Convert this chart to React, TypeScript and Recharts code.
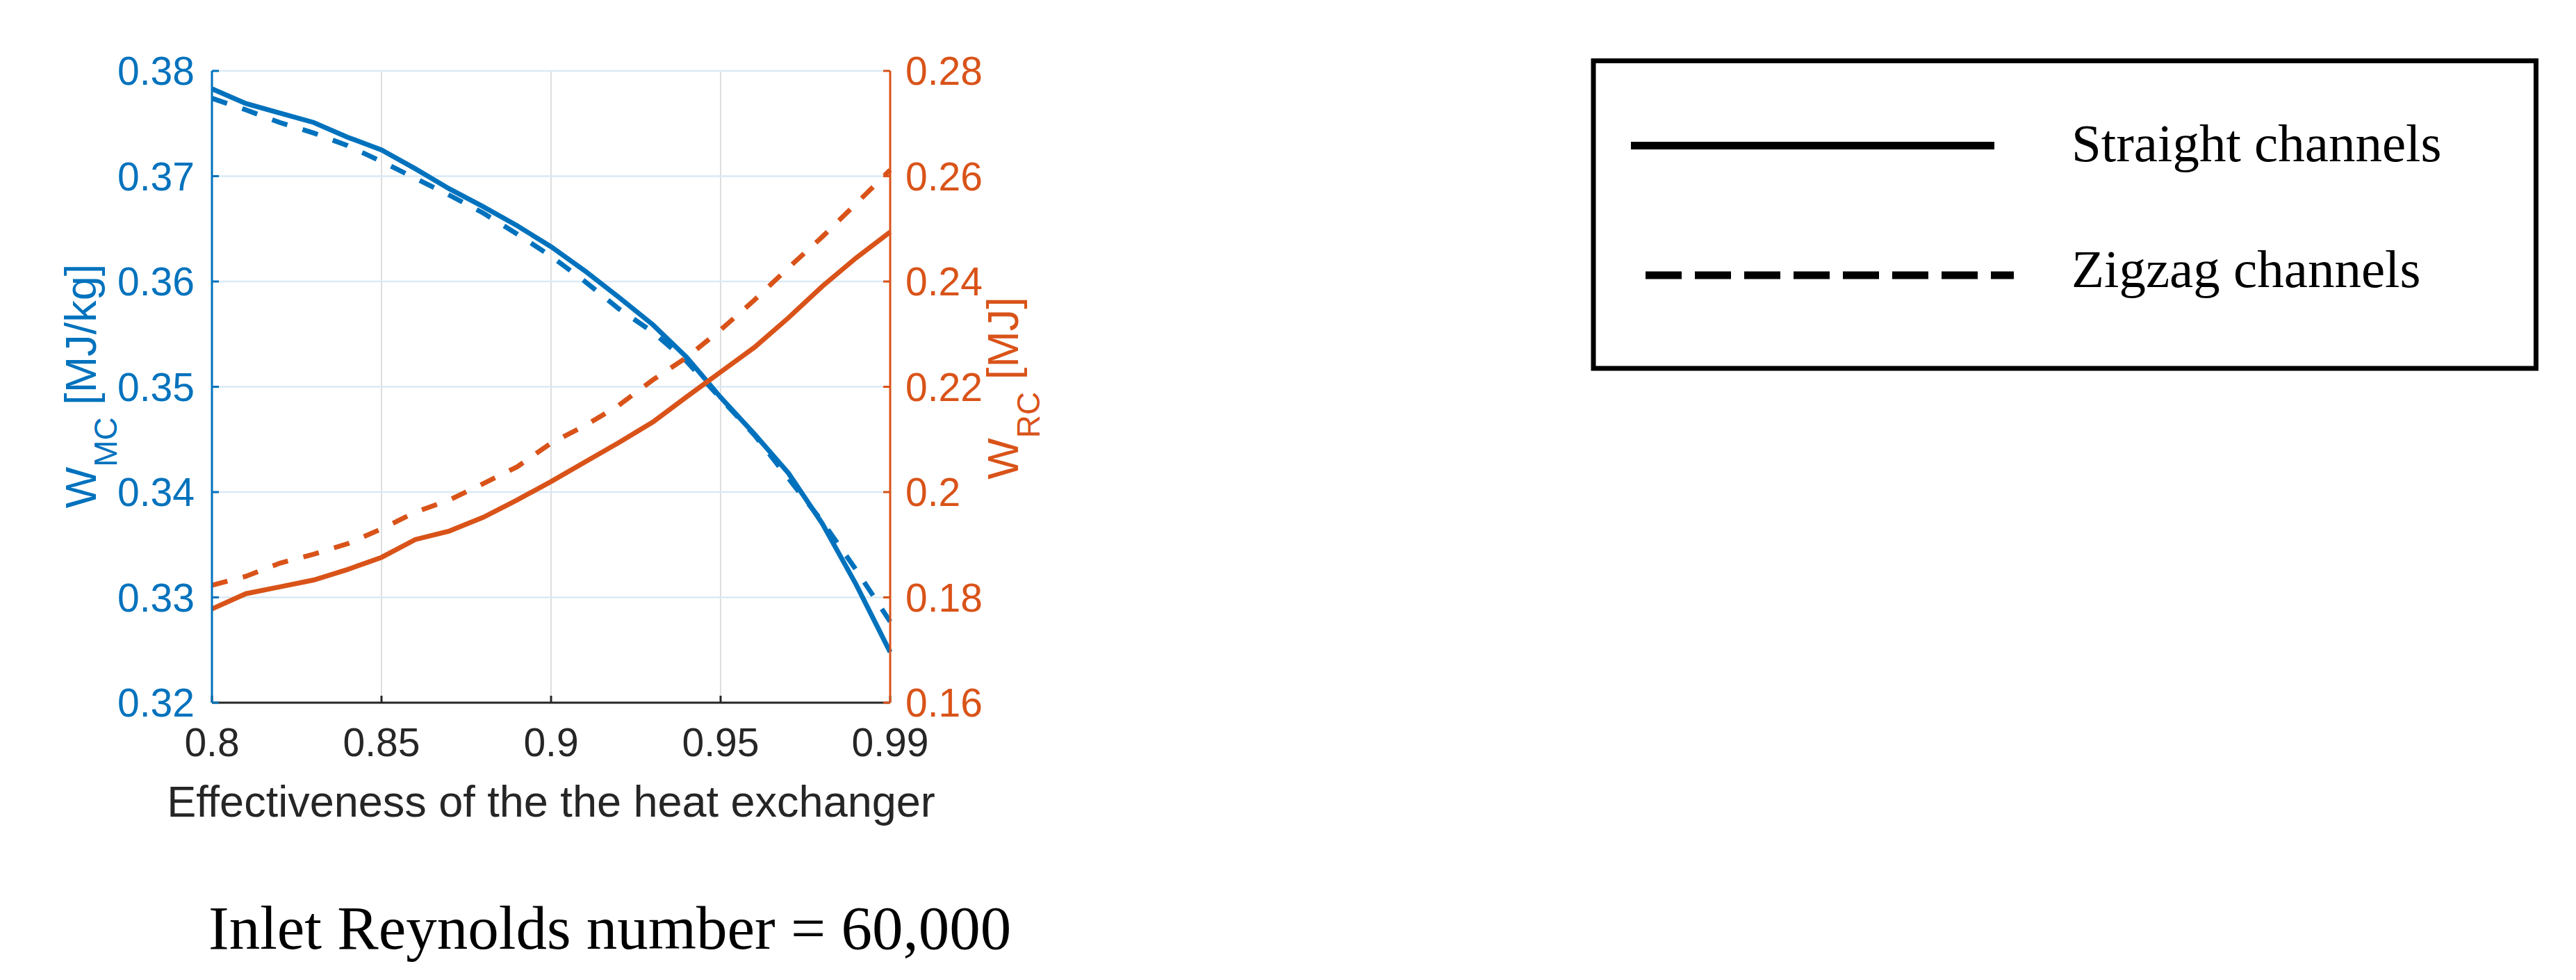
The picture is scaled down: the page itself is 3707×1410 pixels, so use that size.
import React from 'react';
import { LineChart, Line, XAxis, YAxis, CartesianGrid } from 'recharts';

// ---- data ----
const effectiveness = [0.8, 0.81, 0.82, 0.83, 0.84, 0.85, 0.86, 0.87, 0.88, 0.89, 0.9, 0.91, 0.92, 0.93, 0.94, 0.95, 0.96, 0.97, 0.98, 0.99, 1.0];
const wmcStraight = [0.3783, 0.3769, 0.376, 0.3751, 0.3737, 0.3725, 0.3707, 0.3688, 0.3671, 0.3653, 0.3633, 0.361, 0.3585, 0.3559, 0.3528, 0.349, 0.3455, 0.3418, 0.337, 0.3312, 0.3248];
const wmcZigzag = [0.3774, 0.3763, 0.3751, 0.3741, 0.3729, 0.3714, 0.3698, 0.3682, 0.3665, 0.3645, 0.3624, 0.36, 0.3574, 0.3552, 0.3524, 0.3489, 0.3454, 0.3413, 0.3372, 0.3326, 0.3277];
const wrcStraight = [0.1778, 0.1807, 0.182, 0.1833, 0.1853, 0.1876, 0.191, 0.1926, 0.1952, 0.1985, 0.202, 0.2057, 0.2094, 0.2133, 0.2181, 0.2228, 0.2275, 0.2331, 0.2391, 0.2445, 0.2494];
const wrcZigzag = [0.1823, 0.184, 0.1865, 0.1882, 0.1902, 0.193, 0.1962, 0.1985, 0.2016, 0.2048, 0.2093, 0.2126, 0.2165, 0.2213, 0.2256, 0.2308, 0.2365, 0.2426, 0.2485, 0.2548, 0.2612];

const xTicks = [0.8, 0.85, 0.9, 0.95, 1.0];
const xTickLabels = ['0.8', '0.85', '0.9', '0.95', '0.99'];
const leftTicks = [0.32, 0.33, 0.34, 0.35, 0.36, 0.37, 0.38];
const rightTicks = [0.16, 0.18, 0.2, 0.22, 0.24, 0.26, 0.28];
const legendNames = ['Straight channels', 'Zigzag channels'];
const xTitle = 'Effectiveness of the the heat exchanger';
const caption = 'Inlet Reynolds number = 60,000';

const data = effectiveness.map((x, i) => ({
  x,
  wmcStraight: wmcStraight[i],
  wmcZigzag: wmcZigzag[i],
  wrcStraight: wrcStraight[i],
  wrcZigzag: wrcZigzag[i],
}));

// ---- styles ----
const BLUE = '#0072BD';
const ORANGE = '#D95319';
const DARK = '#262626';
const SANS = '"Liberation Sans", Arial, Helvetica, sans-serif';
const SERIF = '"Liberation Serif", "Times New Roman", serif';
const TICK_FONT = 57;
const TITLE_FONT = 63;
const SUB_FONT = 46;
const LINE_W = 7;
const DASH = '23 23';

const CHART_W = 1600;
const CHART_H = 1260;

const LeftTitle = (props: any) => {
  const vb = props.viewBox || { x: 0, y: 0, width: 0, height: 0 };
  const bx = vb.x + 33;
  const cy = vb.y + vb.height / 2 - 1;
  return (
    <text
      transform={`translate(${bx},${cy}) rotate(-90)`}
      textAnchor="middle"
      fill={BLUE}
      fontSize={TITLE_FONT}
      fontFamily={SANS}
      style={{ whiteSpace: 'pre' }}
    >
      <tspan>W</tspan>
      <tspan fontSize={SUB_FONT} dy={30}>MC</tspan>
      <tspan dy={-30}>{' [MJ/kg]'}</tspan>
    </text>
  );
};

const RightTitle = (props: any) => {
  const vb = props.viewBox || { x: 0, y: 0, width: 0, height: 0 };
  const bx = vb.x + 184;
  const cy = vb.y + vb.height / 2 + 2;
  return (
    <text
      transform={`translate(${bx},${cy}) rotate(-90)`}
      textAnchor="middle"
      fill={ORANGE}
      fontSize={TITLE_FONT}
      fontFamily={SANS}
      style={{ whiteSpace: 'pre' }}
    >
      <tspan>W</tspan>
      <tspan fontSize={SUB_FONT} dy={31}>RC</tspan>
      <tspan dy={-31}>{' [MJ]'}</tspan>
    </text>
  );
};

const BottomTitle = (props: any) => {
  const vb = props.viewBox || { x: 0, y: 0, width: 0, height: 0 };
  return (
    <text
      x={vb.x + vb.width / 2}
      y={vb.y + 164}
      textAnchor="middle"
      fill={DARK}
      fontSize={TITLE_FONT}
      fontFamily={SANS}
    >
      {xTitle}
    </text>
  );
};

export default function App() {
  return (
    <div style={{ position: 'absolute', left: 0, top: 0, width: 3707, height: 1410, background: '#ffffff', overflow: 'hidden' }}>
      <LineChart
        width={CHART_W}
        height={CHART_H}
        data={data}
        margin={{ top: 102, left: 105, right: 119, bottom: 99 }}
      >
        <CartesianGrid xAxisId="bottom" yAxisId="left" horizontal={false} vertical={true} stroke="#dedede" strokeWidth={2} />
        <CartesianGrid xAxisId="bottom" yAxisId="left" horizontal={true} vertical={false} stroke="#d9eaf5" strokeWidth={2.5} />
        <XAxis
          xAxisId="bottom"
          dataKey="x"
          type="number"
          domain={[0.8, 1.0]}
          ticks={xTicks}
          interval={0}
          tickFormatter={(v: any, i: number) => xTickLabels[i] ?? String(v)}
          height={150}
          tickSize={-10}
          tickMargin={47}
          axisLine={{ stroke: DARK, strokeWidth: 3 }}
          tickLine={{ stroke: DARK, strokeWidth: 3 }}
          tick={{ fill: DARK, fontSize: TICK_FONT, fontFamily: SANS }}
          label={{ content: BottomTitle }}
        />
        <XAxis
          xAxisId="top"
          orientation="top"
          dataKey="x"
          type="number"
          domain={[0.8, 1.0]}
          ticks={xTicks}
          interval={0}
          height={0}
          tickSize={-10}
          tickFormatter={() => ''}
          axisLine={{ stroke: DARK, strokeWidth: 3 }}
          tickLine={{ stroke: DARK, strokeWidth: 3 }}
        />
        <YAxis
          yAxisId="left"
          orientation="left"
          type="number"
          domain={[0.32, 0.38]}
          ticks={leftTicks}
          interval={0}
          width={200}
          tickSize={-10}
          tickMargin={35}
          axisLine={{ stroke: BLUE, strokeWidth: 3 }}
          tickLine={{ stroke: BLUE, strokeWidth: 3 }}
          tick={{ fill: BLUE, fontSize: TICK_FONT, fontFamily: SANS }}
          label={{ content: LeftTitle }}
        />
        <YAxis
          yAxisId="right"
          orientation="right"
          type="number"
          domain={[0.16, 0.28]}
          ticks={rightTicks}
          interval={0}
          width={200}
          tickSize={-10}
          tickMargin={32}
          axisLine={{ stroke: ORANGE, strokeWidth: 3 }}
          tickLine={{ stroke: ORANGE, strokeWidth: 3 }}
          tick={{ fill: ORANGE, fontSize: TICK_FONT, fontFamily: SANS }}
          label={{ content: RightTitle }}
        />
        <Line xAxisId="bottom" yAxisId="left" type="linear" dataKey="wmcStraight" name="WMC straight" stroke={BLUE} strokeWidth={LINE_W} dot={false} activeDot={false} isAnimationActive={false} />
        <Line xAxisId="bottom" yAxisId="left" type="linear" dataKey="wmcZigzag" name="WMC zigzag" stroke={BLUE} strokeWidth={LINE_W} strokeDasharray={DASH} dot={false} activeDot={false} isAnimationActive={false} />
        <Line xAxisId="bottom" yAxisId="right" type="linear" dataKey="wrcStraight" name="WRC straight" stroke={ORANGE} strokeWidth={LINE_W} dot={false} activeDot={false} isAnimationActive={false} />
        <Line xAxisId="bottom" yAxisId="right" type="linear" dataKey="wrcZigzag" name="WRC zigzag" stroke={ORANGE} strokeWidth={LINE_W} strokeDasharray={DASH} dot={false} activeDot={false} isAnimationActive={false} />
      </LineChart>

      <svg
        width={3707}
        height={1410}
        style={{ position: 'absolute', left: 0, top: 0, pointerEvents: 'none' }}
      >
        <rect x={2293} y={87.5} width={1356.5} height={442.5} fill="none" stroke="#000" strokeWidth={7} />
        <line x1={2347} y1={209.5} x2={2870} y2={209.5} stroke="#000" strokeWidth={11} />
        <line x1={2368} y1={396} x2={2898} y2={396} stroke="#000" strokeWidth={11} strokeDasharray="52 19" />
        <text x={2981} y={232} fontFamily={SERIF} fontSize={77} fill="#000">{legendNames[0]}</text>
        <text x={2981} y={413} fontFamily={SERIF} fontSize={77} fill="#000">{legendNames[1]}</text>
        <text x={300} y={1365} fontFamily={SERIF} fontSize={89} fill="#000">{caption}</text>
      </svg>
    </div>
  );
}
